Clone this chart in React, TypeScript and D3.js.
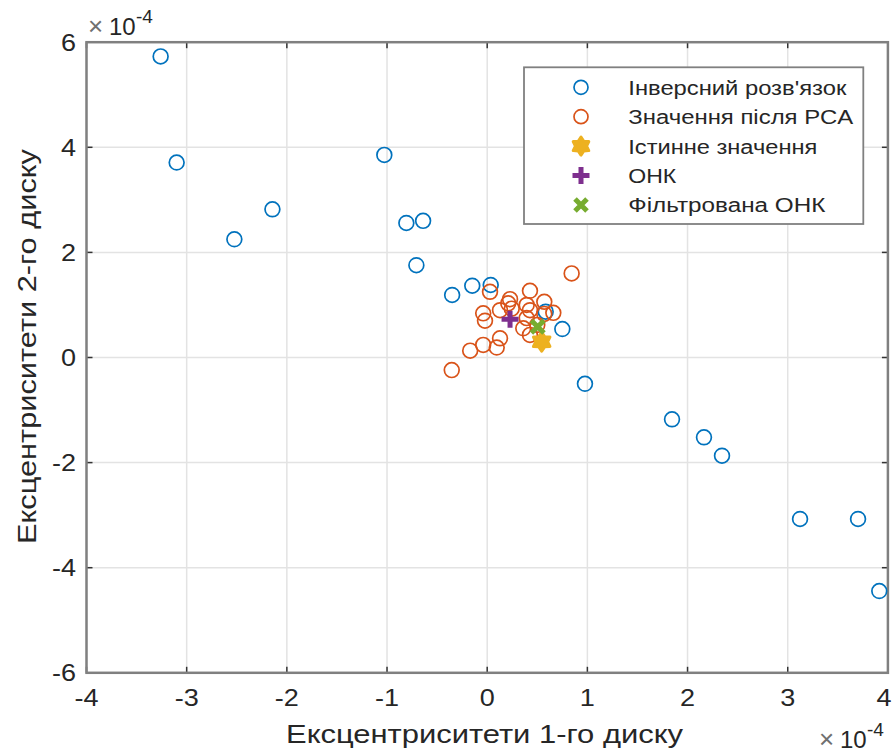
import React from "react";
import * as d3 from "d3";

// values in units of 1e-4
const inverseX = [-3.26, -3.10, -2.524, -2.144, -1.027, -0.807, -0.64, -0.707, -0.35, -0.149, 0.035, 0.584, 0.75, 0.976, 1.845, 2.164, 2.344, 3.123, 3.702, 3.914];
const inverseY = [5.73, 3.71, 2.25, 2.82, 3.855, 2.56, 2.60, 1.756, 1.19, 1.366, 1.38, 0.872, 0.542, -0.5, -1.176, -1.519, -1.869, -3.073, -3.073, -4.444];

const pcaX = [0.843, 0.028, 0.427, 0.228, 0.21, 0.57, 0.394, 0.427, 0.128, -0.04, -0.022, 0.66, 0.57, 0.394, 0.36, 0.427, 0.128, -0.04, 0.095, -0.17, -0.354, 0.245, 0.5];
const pcaY = [1.60, 1.25, 1.27, 1.11, 1.03, 1.06, 1.00, 0.90, 0.90, 0.84, 0.70, 0.85, 0.83, 0.75, 0.556, 0.43, 0.365, 0.24, 0.19, 0.13, -0.24, 0.93, 0.62];

const trueX = [0.544];
const trueY = [0.30];
const onkX = [0.228];
const onkY = [0.727];
const filtX = [0.504];
const filtY = [0.586];

const xTicks = [-4, -3, -2, -1, 0, 1, 2, 3, 4];
const yTicks = [-6, -4, -2, 0, 2, 4, 6];

const legendLabels = ["Інверсний розв'язок", "Значення після PCA", "Істинне значення", "ОНК", "Фільтрована ОНК"];
const legendWidths = [218, 225, 189, 48, 197];
const xLabel = "Ексцентриситети 1-го диску";
const yLabel = "Ексцентриситети 2-го диску";

const C_BLUE = "#0072BD";
const C_ORANGE = "#D95319";
const C_YELLOW = "#EDB120";
const C_PURPLE = "#7E2F8E";
const C_GREEN = "#77AC30";
const TXT = "#262626";
const FONT = "'Liberation Sans', Arial, Helvetica, sans-serif";

const L = 86.5, R = 887.9, T = 42.2, B = 672.8;

function hexagram(r: number) {
  const pts: string[] = [];
  for (let i = 0; i < 12; i++) {
    const a = (Math.PI / 6) * i - Math.PI / 2;
    const rr = i % 2 === 0 ? r : r * 0.62;
    pts.push(`${(rr * Math.cos(a)).toFixed(2)},${(rr * Math.sin(a)).toFixed(2)}`);
  }
  return "M" + pts.join("L") + "Z";
}

function Plus({ x, y, s, color }: any) {
  return <path d={`M${x - s},${y}H${x + s}M${x},${y - s}V${y + s}`} stroke={color} strokeWidth={5} fill="none" />;
}
function Cross({ x, y, s, color }: any) {
  return <path d={`M${x - s},${y - s}L${x + s},${y + s}M${x - s},${y + s}L${x + s},${y - s}`} stroke={color} strokeWidth={5} fill="none" />;
}
function Star({ x, y, r, color }: any) {
  return <path transform={`translate(${x},${y})`} d={hexagram(r)} fill={color} stroke={color} strokeWidth={3} strokeLinejoin="round" />;
}

function Exponent({ x, y }: any) {
  return (
    <g>
      <text x={x} y={y} fontSize={26} fill="#707070">×</text>
      <text x={x + 21} y={y} fontSize={24} fill={TXT}>10</text>
      <text x={x + 48} y={y - 12} fontSize={19} fill={TXT}>-4</text>
    </g>
  );
}

export default function App() {
  const xs = d3.scaleLinear().domain([-4, 4]).range([L, R]);
  const ys = d3.scaleLinear().domain([-6, 6]).range([B, T]);
  const axisColor = "#808080";
  const tickLen = 6;
  const sx = 1.15;

  return (
    <svg width={893} height={754} style={{ position: "absolute", left: 0, top: 0, background: "#fff" }} fontFamily={FONT}>
      <rect x={0} y={0} width={893} height={754} fill="#fff" />
      {/* grid */}
      {xTicks.map((t) => (
        <line key={"gx" + t} x1={xs(t)} x2={xs(t)} y1={T} y2={B} stroke="#e3e3e3" strokeWidth={1.5} />
      ))}
      {yTicks.map((t) => (
        <line key={"gy" + t} x1={L} x2={R} y1={ys(t)} y2={ys(t)} stroke="#e3e3e3" strokeWidth={1.5} />
      ))}
      {/* ticks */}
      {xTicks.map((t) => (
        <g key={"tx" + t}>
          <line x1={xs(t)} x2={xs(t)} y1={B} y2={B - tickLen} stroke="#333" strokeWidth={1.5} />
          <line x1={xs(t)} x2={xs(t)} y1={T} y2={T + tickLen} stroke="#333" strokeWidth={1.5} />
          <text transform={`translate(${Math.min(xs(t), 884)},706) scale(${sx},1)`} textAnchor="middle" fontSize={23.5} fill={TXT}>{t}</text>
        </g>
      ))}
      {yTicks.map((t) => (
        <g key={"ty" + t}>
          <line x1={L} x2={L + tickLen} y1={ys(t)} y2={ys(t)} stroke="#333" strokeWidth={1.5} />
          <line x1={R} x2={R - tickLen} y1={ys(t)} y2={ys(t)} stroke="#333" strokeWidth={1.5} />
          <text transform={`translate(76,${ys(t) + 8.4}) scale(${sx},1)`} textAnchor="end" fontSize={23.5} fill={TXT}>{t}</text>
        </g>
      ))}
      {/* frame */}
      <rect x={L} y={T} width={R - L} height={B - T} fill="none" stroke={axisColor} strokeWidth={2.5} />

      {/* data */}
      {inverseX.map((v, i) => (
        <circle key={"b" + i} cx={xs(v)} cy={ys(inverseY[i])} r={7.4} fill="none" stroke={C_BLUE} strokeWidth={1.7} />
      ))}
      {pcaX.map((v, i) => (
        <circle key={"o" + i} cx={xs(v)} cy={ys(pcaY[i])} r={7.4} fill="none" stroke={C_ORANGE} strokeWidth={1.7} />
      ))}
      {trueX.map((v, i) => (
        <Star key={"s" + i} x={xs(v)} y={ys(trueY[i])} r={9.5} color={C_YELLOW} />
      ))}
      {onkX.map((v, i) => (
        <Plus key={"p" + i} x={xs(v)} y={ys(onkY[i])} s={8.5} color={C_PURPLE} />
      ))}
      {filtX.map((v, i) => (
        <Cross key={"x" + i} x={xs(v)} y={ys(filtY[i])} s={6.3} color={C_GREEN} />
      ))}

      {/* legend */}
      <rect x={524} y={67.3} width={339.3} height={156.7} fill="#fff" stroke={axisColor} strokeWidth={1.8} />
      {legendLabels.map((lab, i) => {
        const cy = 87.3 + i * 29.4;
        let m: any = null;
        if (i === 0) m = <circle cx={581} cy={cy} r={7} fill="none" stroke={C_BLUE} strokeWidth={1.7} />;
        if (i === 1) m = <circle cx={581} cy={cy} r={7} fill="none" stroke={C_ORANGE} strokeWidth={1.7} />;
        if (i === 2) m = <Star x={581} y={cy} r={9} color={C_YELLOW} />;
        if (i === 3) m = <Plus x={581} y={cy} s={8.5} color={C_PURPLE} />;
        if (i === 4) m = <Cross x={581} y={cy} s={6} color={C_GREEN} />;
        return (
          <g key={"l" + i}>
            {m}
            <text x={628.3} y={cy + 7.5} fontSize={20} fill={TXT} textLength={legendWidths[i]} lengthAdjust="spacingAndGlyphs">{lab}</text>
          </g>
        );
      })}

      {/* axis labels */}
      <text x={286} y={743} fontSize={25} fill={TXT} textLength={397} lengthAdjust="spacingAndGlyphs">{xLabel}</text>
      <text transform={`translate(36,544) rotate(-90)`} fontSize={25} fill={TXT} textLength={395} lengthAdjust="spacingAndGlyphs">{yLabel}</text>

      {/* exponents */}
      <Exponent x={88} y={35} />
      <Exponent x={819} y={748} />
    </svg>
  );
}
